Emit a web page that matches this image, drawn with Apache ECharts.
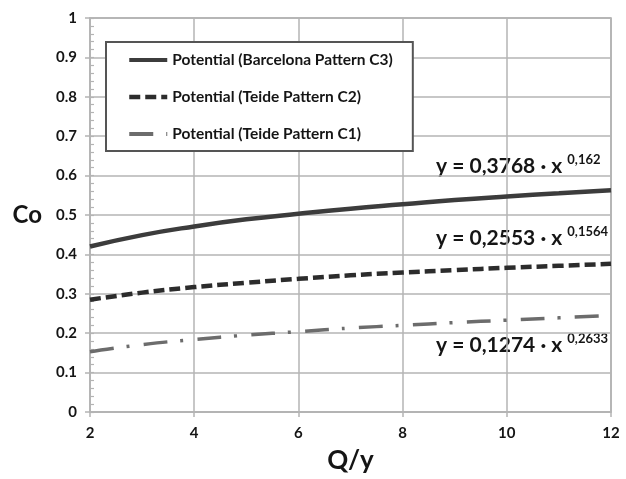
<!DOCTYPE html>
<html>
<head>
<meta charset="utf-8">
<script src="https://cdn.jsdelivr.net/npm/echarts@6/dist/echarts.min.js"></script>
<style>
  html, body { margin: 0; padding: 0; background: #fff; }
  #chart { width: 626px; height: 479px; }
</style>
</head>
<body>
<div id="chart"></div>
<script>
// x values (Q/y)
const qy = [2, 3, 4, 5, 6, 7, 8, 9, 10, 11, 12];
// Co values
const barcelonaC3 = [0.420, 0.449, 0.471, 0.489, 0.503, 0.516, 0.527, 0.538, 0.547, 0.555, 0.563];
const teideC2 = [0.285, 0.303, 0.317, 0.328, 0.338, 0.347, 0.354, 0.360, 0.366, 0.371, 0.376];
const teideC1 = [0.153, 0.171, 0.184, 0.195, 0.204, 0.213, 0.220, 0.227, 0.233, 0.239, 0.245];

const seriesNames = ['Potential (Barcelona Pattern C3)', 'Potential (Teide Pattern C2)', 'Potential (Teide Pattern C1)'];
// equation labels: coefficient, exponent
const eqCoef = ['0,3768', '0,2553', '0,1274'];
const eqExp = ['0,162', '0,1564', '0,2633'];

const FONT = 'Lato, "Open Sans", sans-serif';
const GRID_COLOR = '#b4b4b4';
const TEXT_COLOR = '#151515';

function pairs(ys) {
    return qy.map((x, i) => [x, ys[i]]);
}

//方程文字
function eqText(i, top) {
    return {
        type: 'text',
        left: 436,
        top: top,
        style: {
            text: '{m|y = ' + eqCoef[i] + ' · x }{s|' + eqExp[i] + '}',
            rich: {
                m: {fontFamily: FONT, fontWeight: 'bold', fontSize: 21, fill: TEXT_COLOR, verticalAlign: 'bottom', lineHeight: 24},
                s: {fontFamily: FONT, fontWeight: 'bold', fontSize: 13, fill: TEXT_COLOR, verticalAlign: 'top', lineHeight: 24, padding: [0, 0, 12, 0]}
            }
        }
    };
}

let chart = echarts.init(document.getElementById('chart'));

let option = {
    backgroundColor: '#fff',
    animation: false,
    grid: {
        left: 90, right: 15, top: 18, bottom: 66,
        show: true, borderColor: '#a8a8a8', borderWidth: 1.5, backgroundColor: 'transparent'
    },
    legend: {
        orient: 'vertical',
        left: 106, top: 42,
        padding: [10, 20, 9, 21],
        itemGap: 21,
        itemWidth: 38,
        itemHeight: 14,
        borderColor: '#555',
        borderWidth: 2,
        backgroundColor: '#fff',
        itemStyle: {opacity: 0},
        textStyle: {fontFamily: FONT, fontWeight: 'bold', fontSize: 15.5, color: TEXT_COLOR},
        data: [
            {name: seriesNames[0], lineStyle: {width: 4}},
            {name: seriesNames[1], lineStyle: {width: 4.5}},
            {name: seriesNames[2], lineStyle: {width: 4}}
        ]
    },
    xAxis: {
        type: 'value',
        min: 2, max: 12, interval: 2,
        name: 'Q/y',
        nameLocation: 'middle',
        nameGap: 36,
        nameTextStyle: {fontFamily: FONT, fontWeight: 'bold', fontSize: 26, color: TEXT_COLOR},
        axisLine: {show: true, lineStyle: {color: GRID_COLOR, width: 1.5}},
        axisTick: {show: true, length: 5, lineStyle: {color: GRID_COLOR, width: 1.5}},
        axisLabel: {fontFamily: FONT, fontWeight: 'bold', fontSize: 15, color: TEXT_COLOR, margin: 14},
        splitLine: {show: true, lineStyle: {color: GRID_COLOR, width: 1.5}}
    },
    yAxis: [
        {
            type: 'value',
            min: 0, max: 1, interval: 0.1,
            name: 'Co',
            nameLocation: 'middle',
            nameRotate: 0,
            nameGap: 48,
            nameTextStyle: {fontFamily: FONT, fontWeight: 'bold', fontSize: 24, color: TEXT_COLOR},
            axisLine: {show: true, lineStyle: {color: GRID_COLOR, width: 1.5}},
            axisTick: {show: true, length: 5, lineStyle: {color: GRID_COLOR, width: 1.5}},
            axisLabel: {fontFamily: FONT, fontWeight: 'bold', fontSize: 15, color: TEXT_COLOR, margin: 13},
            splitLine: {show: true, lineStyle: {color: GRID_COLOR, width: 1.5}}
        },
        {
            // 次刻度 (朝内), 同一刻度范围
            type: 'value',
            min: 0, max: 1, interval: 0.1,
            position: 'left',
            axisLine: {show: false},
            axisTick: {show: true, inside: true, length: 4, lineStyle: {color: GRID_COLOR, width: 1.2}},
            axisLabel: {show: false},
            splitLine: {show: false},
            minorTick: {show: true, splitNumber: 5, length: 4, lineStyle: {color: GRID_COLOR, width: 1.2}}
        }
    ],
    series: [
        {
            name: seriesNames[0],
            type: 'line',
            smooth: true,
            symbol: 'none',
            data: pairs(barcelonaC3),
            lineStyle: {color: '#3c3c3c', width: 4.5, type: 'solid'},
            itemStyle: {color: '#3c3c3c'},
            z: 5
        },
        {
            name: seriesNames[1],
            type: 'line',
            smooth: true,
            symbol: 'none',
            data: pairs(teideC2),
            lineStyle: {color: '#2c2c2c', width: 4.5, type: [11, 5]},
            itemStyle: {color: '#2c2c2c'},
            z: 5
        },
        {
            name: seriesNames[2],
            type: 'line',
            yAxisIndex: 1,
            smooth: true,
            symbol: 'none',
            data: pairs(teideC1),
            lineStyle: {color: '#6c6c6c', width: 3.5, type: [24, 13, 3, 14]},
            itemStyle: {color: '#6c6c6c'},
            z: 5
        }
    ],
    graphic: [
        eqText(0, 153),
        eqText(1, 225),
        eqText(2, 332)
    ]
};

chart.setOption(option);
</script>
</body>
</html>
